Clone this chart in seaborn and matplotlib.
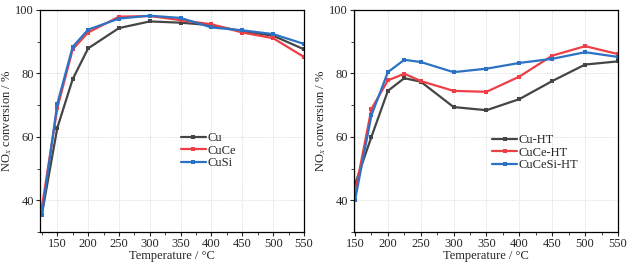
import matplotlib
matplotlib.use("Agg")
import matplotlib.pyplot as plt
import seaborn as sns
import pandas as pd
from matplotlib.ticker import MultipleLocator

temps_a = [125, 150, 175, 200, 250, 300, 350, 400, 450, 500, 550]
cu = [35.5, 62.8, 78.2, 87.9, 94.3, 96.4, 96.0, 95.2, 93.3, 91.9, 87.6]
cuce = [37.8, 69.0, 87.6, 92.9, 97.9, 98.1, 96.8, 95.5, 92.9, 91.1, 85.2]
cusi = [35.3, 70.4, 88.4, 93.8, 97.3, 98.2, 97.5, 94.5, 93.6, 92.4, 89.3]
labels_a = ["Cu", "CuCe", "CuSi"]

temps_b = [150, 175, 200, 225, 250, 300, 350, 400, 450, 500, 550]
cu_ht = [45.0, 60.0, 74.5, 78.5, 77.4, 69.4, 68.4, 71.9, 77.6, 82.8, 83.8]
cuce_ht = [42.3, 68.8, 77.8, 79.9, 77.6, 74.5, 74.2, 79.0, 85.6, 88.6, 86.1]
cucesi_ht = [40.0, 66.8, 80.4, 84.3, 83.6, 80.4, 81.5, 83.3, 84.6, 86.7, 85.2]
labels_b = ["Cu-HT", "CuCe-HT", "CuCeSi-HT"]

colors = ["#454545", "#ee3f47", "#2c72c4"]

sns.set_theme(style="ticks")
plt.rcParams["font.family"] = ["Liberation Serif", "DejaVu Serif"]
plt.rcParams["mathtext.fontset"] = "stix"

def long_df(temps, series, labels):
    rows = []
    for lab, vals in zip(labels, series):
        for t, v in zip(temps, vals):
            rows.append({"T": t, "conv": v, "sample": lab})
    return pd.DataFrame(rows)

df_a = long_df(temps_a, [cu, cuce, cusi], labels_a)
df_b = long_df(temps_b, [cu_ht, cuce_ht, cucesi_ht], labels_b)

fig = plt.figure(figsize=(6.34, 2.62), dpi=100)
ax1 = fig.add_axes([40/634, 30/262, 264/634, 222/262])
ax2 = fig.add_axes([354/634, 30/262, 264/634, 222/262])

for ax, df, labels, xlim, lx, ly in [
    (ax1, df_a, labels_a, (122, 550), 0.50, 0.49),
    (ax2, df_b, labels_b, (148.5, 550), 0.49, 0.48),
]:
    sns.lineplot(data=df, x="T", y="conv", hue="sample", hue_order=labels,
                 palette=colors, marker="s", markersize=3, markeredgewidth=0,
                 linewidth=1.6, ax=ax)
    ax.set_xlim(*xlim)
    ax.set_ylim(30, 100)
    ax.set_xticks([150, 200, 250, 300, 350, 400, 450, 500, 550])
    ax.xaxis.set_minor_locator(MultipleLocator(25))
    ax.set_yticks([40, 60, 80, 100])
    ax.yaxis.set_minor_locator(MultipleLocator(10))
    ax.grid(True, which="major", color="#d8d8d8", linestyle=(0, (1.5, 1.5)), linewidth=0.6)
    ax.tick_params(axis="both", which="major", labelsize=9, length=3, width=0.8, pad=1.5, direction="out")
    ax.tick_params(axis="both", which="minor", length=2, width=0.6, direction="out")
    for s in ax.spines.values():
        s.set_linewidth(0.9)
        s.set_color("black")
    ax.set_xlabel("Temperature / °C", fontsize=9, labelpad=0)
    ax.set_ylabel("NO$_x$ conversion / %", fontsize=9, labelpad=1)
    leg = ax.legend(loc="upper left", bbox_to_anchor=(lx, ly), frameon=False,
                    fontsize=9, handlelength=2.0, handletextpad=0.1,
                    labelspacing=0.05, borderpad=0.2)

fig.savefig("out.png", dpi=100)
